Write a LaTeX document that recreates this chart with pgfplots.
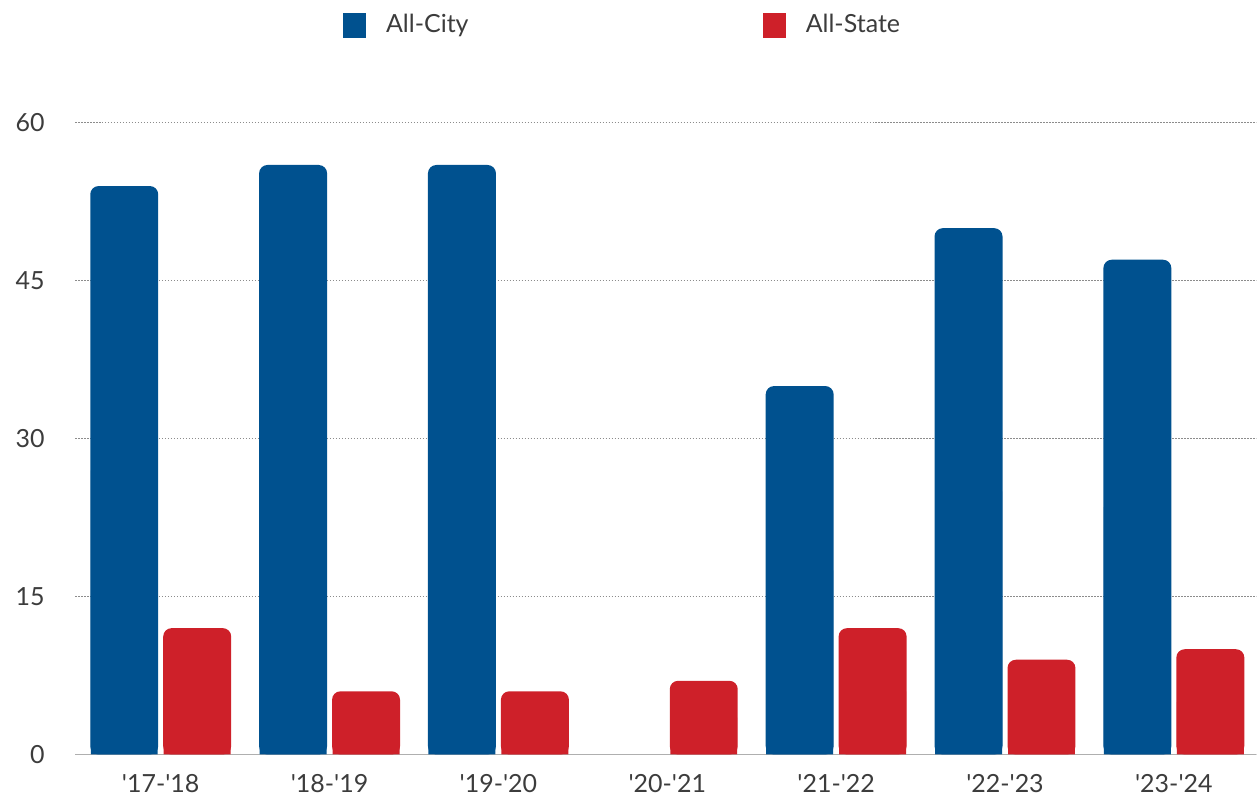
\documentclass[border=0pt]{standalone}
\usepackage{pgfplots}
\pgfplotsset{compat=1.18}
\usepackage{pgfplotstable}
\usepackage{fontspec}
\setmainfont{Lato}[Ligatures=TeXOff]
\definecolor{cityblue}{RGB}{0,81,143}
\definecolor{statered}{RGB}{206,32,41}
\definecolor{txt}{RGB}{60,60,60}
\definecolor{gridc}{RGB}{140,140,140}
\definecolor{axisc}{RGB}{175,175,175}
\pgfplotstableread{
x city state
0 54 12
1 56 6
2 56 6
3 0 7
4 35 12
5 50 9
6 47 10
}\datatable
\begin{document}
\fontsize{15}{18}\selectfont
\begin{tikzpicture}
\begin{axis}[
  scale only axis, width=709.2pt, height=379.2pt,
  xmin=-0.5075, xmax=6.488, ymin=0, ymax=60,
  xtick={0,1,2,3,4,5,6},
  xticklabels={'17-'18,'18-'19,'19-'20,'20-'21,'21-'22,'22-'23,'23-'24},
  ytick={0,15,30,45,60},
  axis x line*=bottom, axis y line*=left,
  y axis line style={draw=none},
  x axis line style={-, draw=axisc, line width=0.9pt},
  major tick length=0pt,
  ymajorgrids, grid style={gridc, line width=0.5pt, dash pattern=on 0.9pt off 0.9pt},
  /pgf/number format/assume math mode=true,
  tick label style={font=\fontsize{15}{18}\selectfont, text=txt},
  yticklabel style={anchor=east, xshift=-13pt},
  xticklabel style={anchor=north, yshift=-7pt},
  clip=false,
  legend columns=2,
  legend style={at={(0.2267,1.1543)}, anchor=west, draw=none, fill=none, inner sep=0pt, column sep=0pt,
    nodes={inner sep=0pt, text=txt, font=\fontsize{15}{18}\selectfont}},
  legend cell align=left,
  legend image code/.code={\fill[sharp corners] (0pt,-7.5pt) rectangle (13.8pt,7.5pt); \path (25.8pt,0pt);},
]
\addplot[ybar, bar width=40.8pt, bar shift=-21.9pt, fill=cityblue, draw=none, rounded corners=5pt,
  restrict y to domain=0.01:100] table[x=x, y=city] {\datatable};
\addlegendentry{\makebox[226.2pt][l]{All-City}}
\addplot[ybar, bar width=40.8pt, bar shift=21.9pt, fill=statered, draw=none, rounded corners=5pt,
  restrict y to domain=0.01:100] table[x=x, y=state] {\datatable};
\addlegendentry{All-State}
\addplot[ybar, bar width=40.2pt, bar shift=-21.9pt, fill=cityblue, draw=none, forget plot,
  restrict y to domain=0.01:100] table[x=x, y expr=\thisrow{city}/2] {\datatable};
\addplot[ybar, bar width=40.2pt, bar shift=21.9pt, fill=statered, draw=none, forget plot,
  restrict y to domain=0.01:100] table[x=x, y expr=\thisrow{state}/2] {\datatable};
\path (rel axis cs:-0.0635,-0.0728) rectangle (rel axis cs:1,1.1946);
\end{axis}
\end{tikzpicture}
\end{document}
